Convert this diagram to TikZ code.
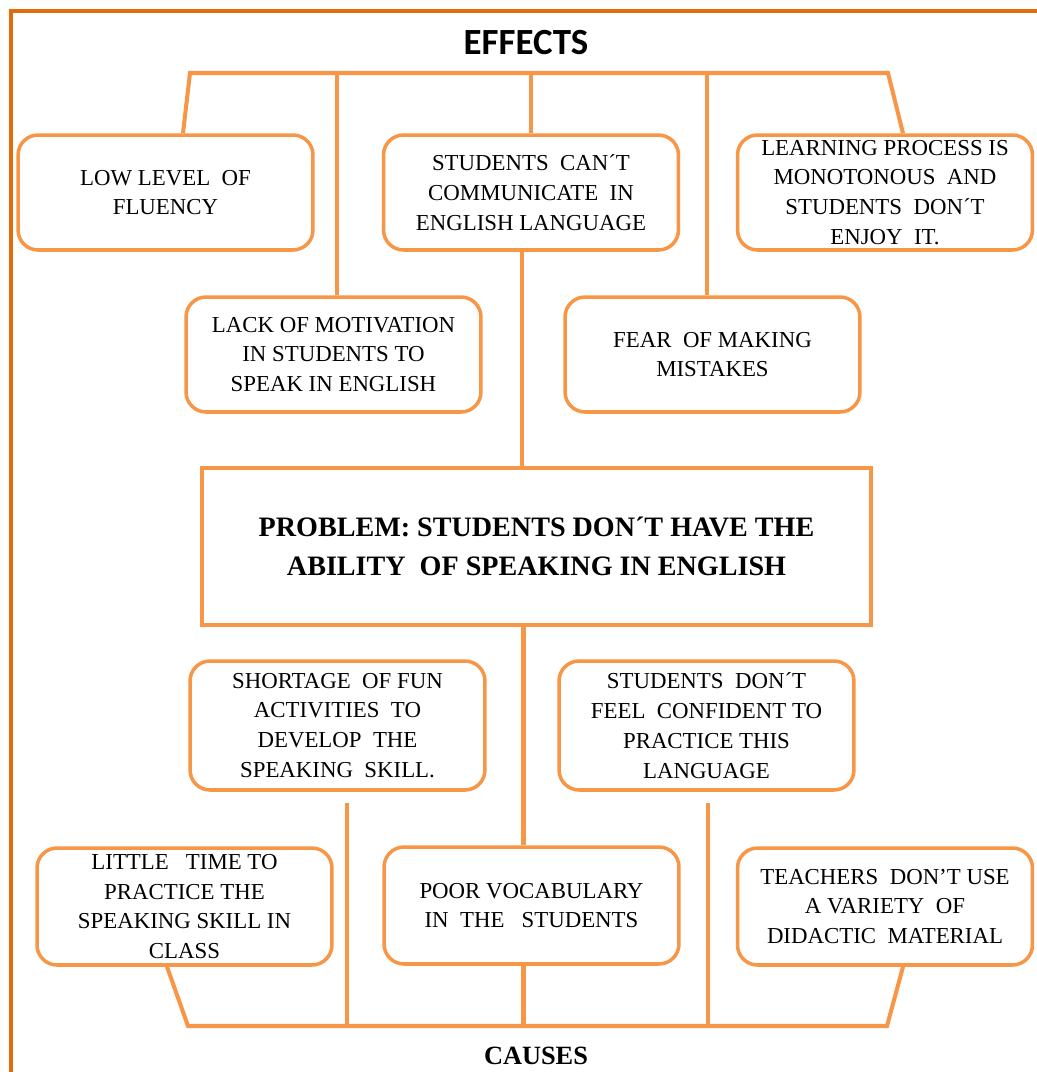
\documentclass[tikz,border=0pt]{standalone}
\usepackage{fontspec}
\setmainfont{Liberation Serif}
\newfontfamily\headfont{Carlito}
\definecolor{boxorange}{RGB}{247,150,70}
\definecolor{frameorange}{RGB}{227,108,10}
\tikzset{
	treebox/.style = {draw = boxorange, line width = 2pt, rounded corners = 0.4cm, fill = white,
		minimum width = 5.9cm, minimum height = 2.3cm, inner xsep = 2pt, inner ysep = 0pt,
		align = center, font = \fontsize{13}{17}\selectfont},
	problembox/.style = {draw = boxorange, line width = 2.2pt, fill = white,
		minimum width = 13.38cm, minimum height = 3.14cm, align = center,
		font = \bfseries\fontsize{16}{22}\selectfont},
	branch/.style = {draw = boxorange, line width = 2.3pt},
}
\begin{document}
\begin{tikzpicture}[x = 0.02cm, y = -0.02cm]
	\useasboundingbox (0,0) rectangle (1036,1072);
	\draw[color = frameorange, line width = 2.2pt] (11,1090) -- (11,11) -- (1050,11);

	% effects
	\node[font = \headfont\bfseries\fontsize{21}{24}\selectfont] (effects) at (526,43) {EFFECTS};
	\node[treebox] (low) at (165.5,192.5) {LOW LEVEL~~OF\\FLUENCY};
	\node[treebox] (comm) at (531,192.5) {STUDENTS~~CAN´T\\COMMUNICATE~~IN\\ENGLISH LANGUAGE};
	\node[treebox] (learn) at (885,192.5) {LEARNING PROCESS IS\\MONOTONOUS~~AND\\STUDENTS~~DON´T\\ENJOY~~IT.};
	\node[treebox] (lack) at (333.5,354.5) {LACK OF MOTIVATION\\IN STUDENTS TO\\SPEAK IN ENGLISH};
	\node[treebox] (fear) at (712.5,354.5) {FEAR~~OF MAKING\\MISTAKES};

	% problem
	\node[problembox] (problem) at (536.5,546.5) {PROBLEM: STUDENTS DON´T HAVE THE\\ABILITY~~OF SPEAKING IN ENGLISH};

	% causes
	\node[treebox, minimum height = 2.58cm] (shortage) at (337.5,725.5) {SHORTAGE~~OF FUN\\ACTIVITIES~~TO\\DEVELOP~~THE\\SPEAKING~~SKILL.};
	\node[treebox, minimum height = 2.58cm] (confident) at (706.5,725.5) {STUDENTS~~DON´T\\FEEL~~CONFIDENT TO\\PRACTICE THIS\\LANGUAGE};
	\node[treebox, minimum height = 2.34cm] (little) at (184.5,906.5) {LITTLE~~~TIME TO\\PRACTICE THE\\SPEAKING SKILL IN\\CLASS};
	\node[treebox, minimum height = 2.34cm] (poor) at (531.5,905.5) {POOR VOCABULARY\\IN~~THE~~~STUDENTS};
	\node[treebox, minimum height = 2.34cm] (teachers) at (885,906.5) {TEACHERS~~DON’T USE\\A VARIETY~~OF\\DIDACTIC~~MATERIAL};
	\node[font = \bfseries\fontsize{15}{18}\selectfont] (causes) at (536,1056) {CAUSES};

	% top branches
	\coordinate (topleft) at (190,73);
	\coordinate (topright) at (888,73);
	\draw[branch] ([xshift = 0.35cm]low.north) -- (topleft) -- (topright) -- ([xshift = 0.36cm]learn.north);
	\draw[branch] ([xshift = 0.07cm]lack.north) -- ([xshift = 0.07cm]lack.north |- topleft);
	\draw[branch] (comm.north) -- (comm.north |- topleft);
	\draw[branch] ([xshift = -0.11cm]fear.north) -- ([xshift = -0.11cm]fear.north |- topleft);
	\draw[branch] ([xshift = -0.18cm]comm.south) -- ([xshift = -0.18cm]comm.south |- problem.north);

	% bottom branches
	\coordinate (botleft) at (188,1026);
	\coordinate (botright) at (887,1026);
	\coordinate (shortfoot) at (347,803);
	\coordinate (conffoot) at (708,803);
	\draw[branch] ([xshift = -0.35cm]little.south) -- (botleft) -- (botright) -- ([xshift = 0.36cm]teachers.south);
	\draw[branch] ([xshift = -0.16cm]poor.north) -- ([xshift = -0.16cm]poor.north |- problem.south);
	\draw[branch] ([xshift = -0.16cm]poor.south) -- ([xshift = -0.16cm]poor.south |- botleft);
	\draw[branch] (shortfoot) -- (shortfoot |- botleft);
	\draw[branch] (conffoot) -- (conffoot |- botleft);
\end{tikzpicture}
\end{document}
